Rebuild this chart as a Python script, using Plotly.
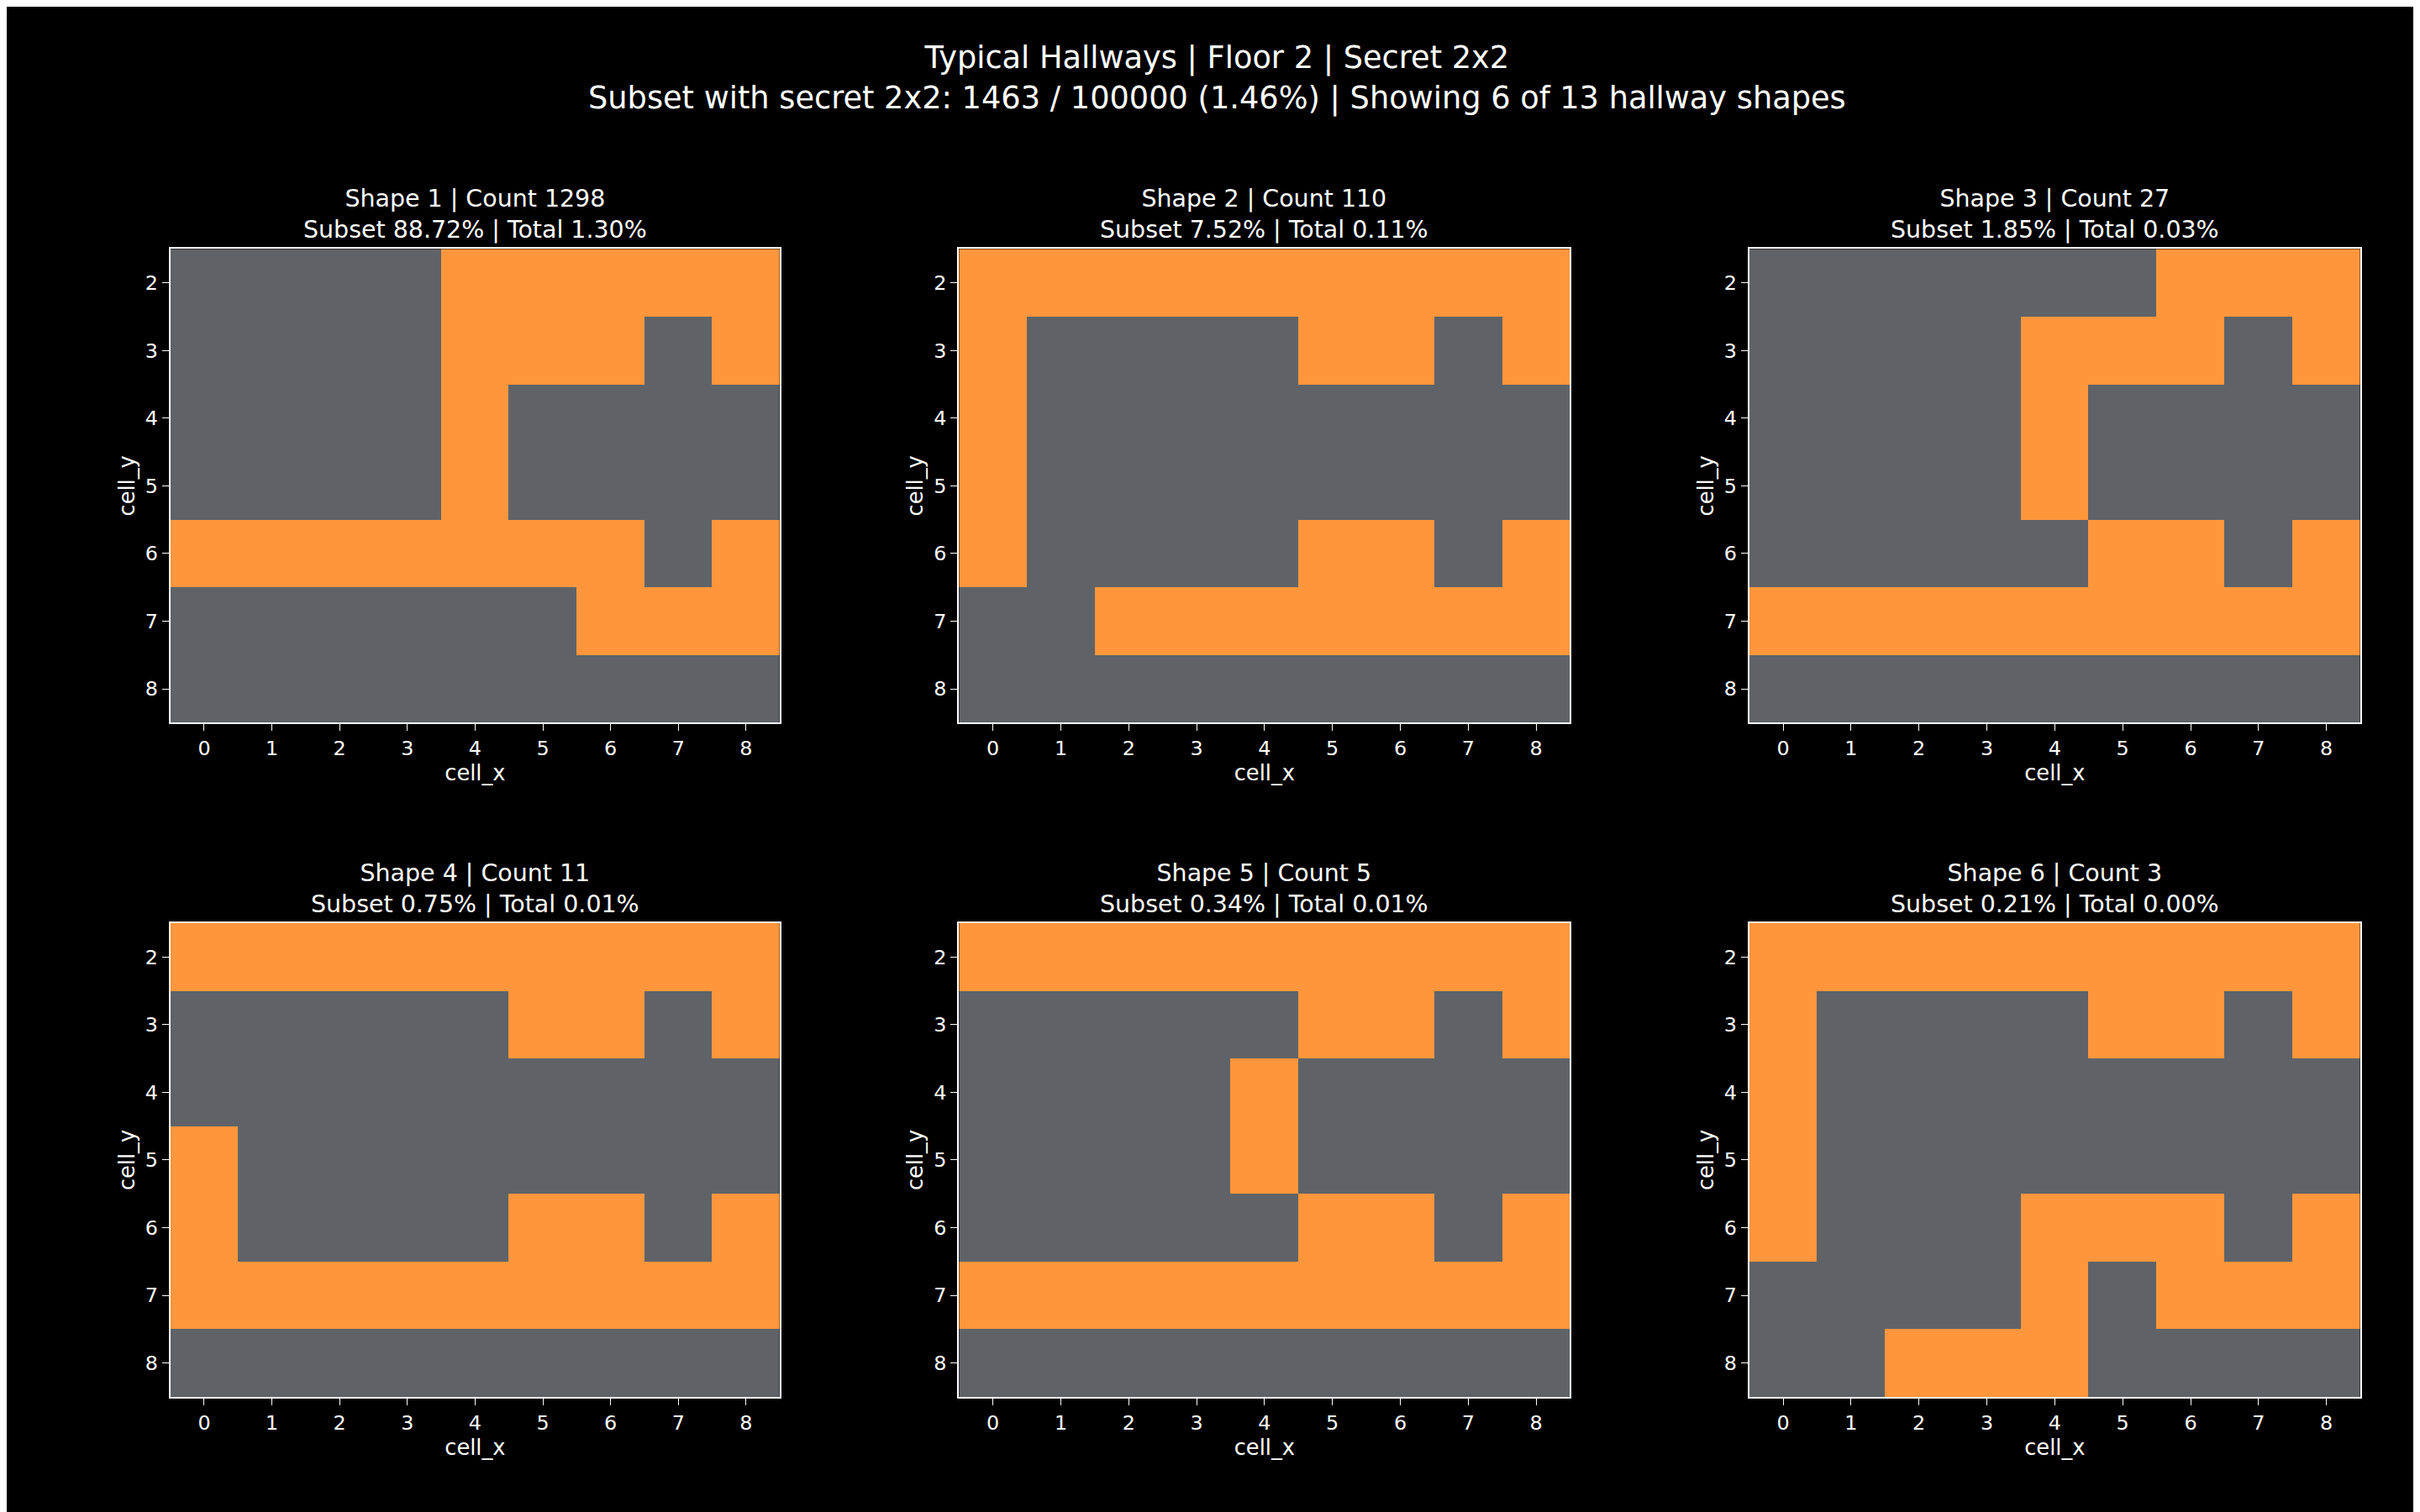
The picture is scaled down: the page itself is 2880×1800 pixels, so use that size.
import plotly.graph_objects as go

# hallway grids, rows are cell_y 2..8, columns cell_x 0..8 (1 = hallway)
cell_x = list(range(9))
cell_y = list(range(2, 9))

shape1 = ["000011111", "000011101", "000010000", "000010000", "111111101", "000000111", "000000000"]
shape2 = ["111111111", "100001101", "100000000", "100000000", "100001101", "001111111", "000000000"]
shape3 = ["000000111", "000011101", "000010000", "000010000", "000001101", "111111111", "000000000"]
shape4 = ["111111111", "000001101", "000000000", "100000000", "100001101", "111111111", "000000000"]
shape5 = ["111111111", "000001101", "000010000", "000010000", "000001101", "111111111", "000000000"]
shape6 = ["111111111", "100001101", "100000000", "100000000", "100011101", "000010111", "001110000"]

shapes = [shape1, shape2, shape3, shape4, shape5, shape6]
counts = [1298, 110, 27, 11, 5, 3]
subset_pct = ["88.72%", "7.52%", "1.85%", "0.75%", "0.34%", "0.21%"]
total_pct = ["1.30%", "0.11%", "0.03%", "0.01%", "0.01%", "0.00%"]

GRAY = "#5f6368"
ORANGE = "#ff963c"
W, H = 2880, 1800
s = W / 1568

xdoms = [(0.0676, 0.3195), (0.3935, 0.646), (0.72, 0.9726)]
ydoms = [(0.5265, 0.8398), (0.0806, 0.3939)]

fig = go.Figure()
annotations = []
for i, grid in enumerate(shapes):
    r, c = divmod(i, 3)
    n = "" if i == 0 else str(i + 1)
    z = [[int(ch) for ch in row] for row in grid]
    fig.add_trace(go.Heatmap(
        x=cell_x, y=cell_y, z=z, zmin=0, zmax=1, showscale=False,
        colorscale=[[0, GRAY], [0.5, GRAY], [0.5, ORANGE], [1, ORANGE]],
        xaxis="x" + n, yaxis="y" + n))
    ax = dict(showline=True, mirror=True, linecolor="white", linewidth=2,
              ticks="outside", tickcolor="white", ticklen=8, showgrid=False,
              zeroline=False, tickfont=dict(size=13 * s, color="white"))
    fig.layout["xaxis" + n] = dict(ax, domain=xdoms[c], anchor="y" + n, tickmode="array",
                                   tickvals=cell_x, range=[-0.5, 8.5],
                                   title=dict(text="cell_x", font=dict(size=14 * s, color="white"), standoff=5))
    fig.layout["yaxis" + n] = dict(ax, domain=ydoms[r], anchor="x" + n, tickmode="array",
                                   tickvals=cell_y, range=[8.5, 1.5],
                                   title=dict(text="cell_y", font=dict(size=14 * s, color="white"), standoff=5))
    annotations.append(dict(
        text=f"Shape {i+1} | Count {counts[i]}<br>Subset {subset_pct[i]} | Total {total_pct[i]}",
        x=sum(xdoms[c]) / 2, y=ydoms[r][1], xref="paper", yref="paper",
        xanchor="center", yanchor="bottom", yshift=4, showarrow=False,
        font=dict(size=15.5 * s, color="white")))

annotations.append(dict(
    text="Typical Hallways | Floor 2 | Secret 2x2<br>Subset with secret 2x2: 1463 / 100000 (1.46%) | Showing 6 of 13 hallway shapes",
    x=0.5, y=1 - 20 / 980, xref="paper", yref="paper", xanchor="center", yanchor="top",
    showarrow=False, font=dict(size=20 * s, color="white")))

fig.update_layout(width=W, height=H, margin=dict(l=0, r=0, t=0, b=0),
                  paper_bgcolor="black", plot_bgcolor="black",
                  font=dict(family="DejaVu Sans", color="white"),
                  annotations=annotations)
fig.write_html("out.html")
